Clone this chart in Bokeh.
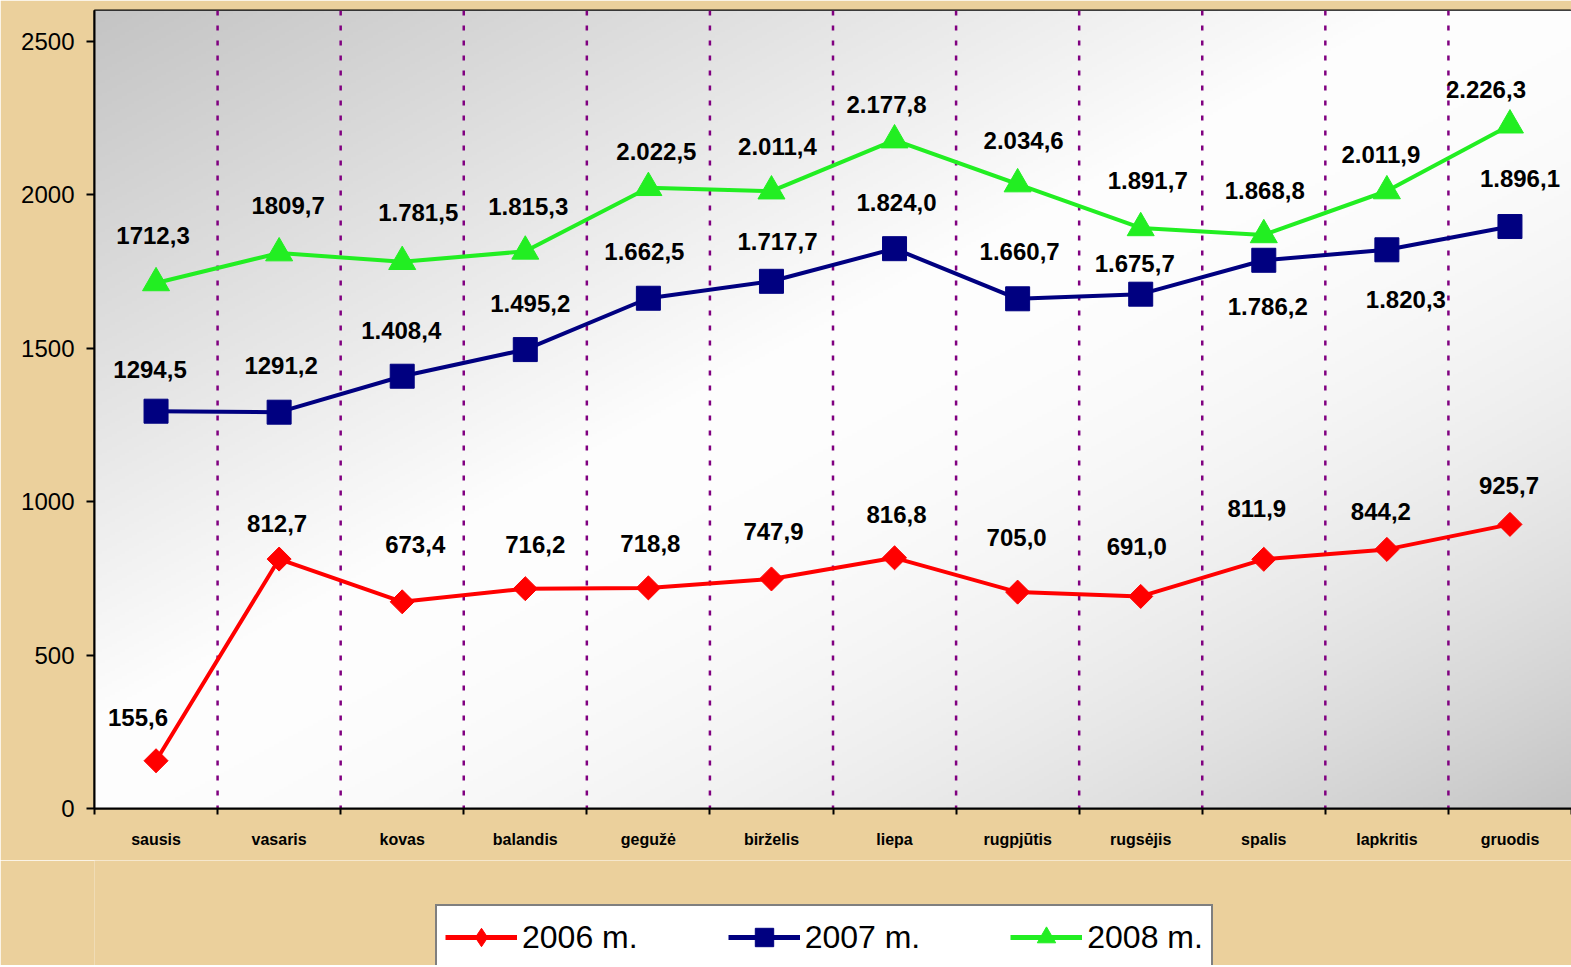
import numpy as np
from bokeh.plotting import figure
from bokeh.layouts import column
from bokeh.models import (ColumnDataSource, LabelSet, Span, Legend, LegendItem,
                          LinearAxis, Range1d, FixedTicker)
from bokeh.core.properties import value
from bokeh.embed import file_html
from bokeh.resources import INLINE

# ---------------- data ----------------
months = ["sausis", "vasaris", "kovas", "balandis", "gegužė", "birželis",
          "liepa", "rugpjūtis", "rugsėjis", "spalis", "lapkritis", "gruodis"]

values_2006 = [155.6, 812.7, 673.4, 716.2, 718.8, 747.9, 816.8, 705.0, 691.0, 811.9, 844.2, 925.7]
values_2007 = [1294.5, 1291.2, 1408.4, 1495.2, 1662.5, 1717.7, 1824.0, 1660.7, 1675.7, 1786.2, 1820.3, 1896.1]
values_2008 = [1712.3, 1809.7, 1781.5, 1815.3, 2022.5, 2011.4, 2177.8, 2034.6, 1891.7, 1868.8, 2011.9, 2226.3]

labels_2006 = ["155,6", "812,7", "673,4", "716,2", "718,8", "747,9", "816,8", "705,0", "691,0", "811,9", "844,2", "925,7"]
labels_2007 = ["1294,5", "1291,2", "1.408,4", "1.495,2", "1.662,5", "1.717,7", "1.824,0", "1.660,7", "1.675,7", "1.786,2", "1.820,3", "1.896,1"]
labels_2008 = ["1712,3", "1809,7", "1.781,5", "1.815,3", "2.022,5", "2.011,4", "2.177,8", "2.034,6", "1.891,7", "1.868,8", "2.011,9", "2.226,3"]

y_ticks = [0, 500, 1000, 1500, 2000, 2500]
series_names = ["2006 m.", "2007 m.", "2008 m."]

# label placement (screen px offsets, style only)
dx_2006 = [-18, -2, 13, 10, 2, 2, 2, -1, -4, -7, -6, -1]
dy_2006 = [43, 36, 57, 44, 44, 47, 43, 55, 50, 51, 38, 39]
dx_2007 = [-6, 2, -1, 5, -4, 6, 2, 2, -6, 4, 19, 10]
dy_2007 = [42, 47, 46, 46, 47, 40, 46, 47, 31, -46, -50, 48]
dx_2008 = [-3, 9, 16, 3, 8, 6, -8, 6, 7, 1, -6, -24]
dy_2008 = [47, 48, 49, 45, 36, 45, 36, 44, 47, 44, 37, 36]

# category slots: month i is centred at i + 0.5
n = len(months)
xpos = [i + 0.5 for i in range(n)]

SANS = "Arial, 'Liberation Sans', sans-serif"
NARROW = "'Liberation Sans Narrow', 'Arial Narrow', Arial, sans-serif"
BG = "#EBD09C"
WIDTH = 1571

# ---------------- main chart ----------------
p = figure(x_range=Range1d(0, n), y_range=Range1d(0, 2600),
           width=WIDTH, height=860,
           output_backend="svg", toolbar_location=None,
           x_axis_location=None,
           min_border_left=94, min_border_right=0, min_border_top=10,
           min_border_bottom=52,
           border_fill_color=BG, background_fill_color="#f4f4f4")
p.xgrid.visible = False
p.ygrid.visible = False
p.outline_line_color = "black"
p.outline_line_width = 2

# gradient plot-area fill
H, W = 300, 600
u = np.linspace(0, 1, W)[None, :]
vtop = 1 - np.linspace(0, 1, H)[:, None]
t = (u + vtop) / 2.0
g = np.where(t < 0.45, 0xC4 + (0xFE - 0xC4) * (t / 0.45),
             0xFE - (0xFE - 0xC4) * ((t - 0.45) / 0.55) ** 2)
g = np.clip(g, 0, 255).astype(np.uint32)
img = (np.uint32(255) << np.uint32(24)) | (g << np.uint32(16)) | (g << np.uint32(8)) | g
p.image_rgba(image=[img.astype(np.uint32)], x=0, y=0, dw=n, dh=2600, level="image")

# dotted purple separators between months
for i in range(1, n):
    p.add_layout(Span(location=i, dimension="height", line_color="#800080",
                      line_width=2.5, line_dash="5 10", level="underlay"))

# y axis
yax = p.yaxis[0]
yax.ticker = FixedTicker(ticks=y_ticks)
yax.axis_line_color = "black"
yax.axis_line_width = 2
yax.major_tick_line_width = 2
yax.major_tick_in = 0
yax.major_tick_out = 8
yax.minor_tick_line_color = None
yax.major_label_standoff = 12
yax.major_label_text_font = SANS
yax.major_label_text_font_size = "24px"
yax.major_label_text_color = "black"

# x axis: boundary ticks + category labels
bounds = list(range(n + 1))
tick_axis = LinearAxis(ticker=FixedTicker(ticks=bounds),
                       major_label_overrides={b: "" for b in bounds},
                       major_label_standoff=0,
                       major_tick_in=0, major_tick_out=6, major_tick_line_width=2,
                       minor_tick_line_color=None,
                       axis_line_color="black", axis_line_width=2)
p.add_layout(tick_axis, "below")
cat_axis = LinearAxis(ticker=FixedTicker(ticks=xpos),
                      major_label_overrides={x: m for x, m in zip(xpos, months)},
                      axis_line_color=None, major_tick_line_color=None,
                      minor_tick_line_color=None,
                      major_label_standoff=10,
                      major_label_text_font=NARROW,
                      major_label_text_font_style="bold",
                      major_label_text_font_size="16px",
                      major_label_text_color="black")
p.add_layout(cat_axis, "below")

# ---------------- series ----------------
specs = [
    (values_2006, labels_2006, dx_2006, dy_2006, "#FF0000", "square", 17, np.pi / 4, "diamond"),
    (values_2007, labels_2007, dx_2007, dy_2007, "#000080", "square", 24, 0.0, "square"),
    (values_2008, labels_2008, dx_2008, dy_2008, "#22EE22", "triangle", 27, 0.0, "triangle"),
]

# legend strip (separate canvas below the chart, frame aligned with chart frame)
lg = figure(x_range=Range1d(0, 1), y_range=Range1d(0, 1),
            width=WIDTH, height=105, output_backend="svg", toolbar_location=None,
            x_axis_location=None, y_axis_location=None,
            min_border_left=94, min_border_right=0, min_border_top=0, min_border_bottom=0,
            border_fill_color=BG, background_fill_color=BG, outline_line_color=None)
lg.xgrid.visible = False
lg.ygrid.visible = False

items = []
for (vals, labs, dxs, dys, col, marker, size, ang, lmarker), name in zip(specs, series_names):
    src = ColumnDataSource(dict(x=xpos, month=months, y=vals, label=labs, dx=dxs, dy=dys))
    p.line("x", "y", source=src, line_color=col, line_width=4)
    p.scatter("x", "y", source=src, marker=marker, size=size, angle=ang,
              fill_color=col, line_color=col)
    p.add_layout(LabelSet(x="x", y="y", text="label", source=src,
                          x_offset="dx", y_offset="dy",
                          text_align="center", text_baseline="middle",
                          text_font=value(SANS), text_font_style="bold",
                          text_font_size="24px", text_color="black"))
    # legend swatch renderers: their only points lie outside the strip's visible range
    swatch = ColumnDataSource(dict(x=[-5.0, -4.0], y=[-5.0, -5.0]))
    l_ln = lg.line("x", "y", source=swatch, line_color=col, line_width=5)
    l_sc = lg.scatter("x", "y", source=swatch, marker=lmarker, size=20,
                      fill_color=col, line_color=col)
    items.append(LegendItem(label=name, renderers=[l_ln, l_sc]))

legend = Legend(items=items, orientation="horizontal", location=(341, -5),
                glyph_width=72, glyph_height=46, label_height=30,
                label_standoff=5, spacing=90, padding=8, margin=0,
                label_text_font=SANS, label_text_font_size="32px",
                label_text_color="black",
                border_line_color="black", border_line_width=2,
                background_fill_color="white", background_fill_alpha=1.0)
lg.add_layout(legend, "center")

layout = column(p, lg, spacing=0)
open("out.html", "w").write(file_html(layout, INLINE))
